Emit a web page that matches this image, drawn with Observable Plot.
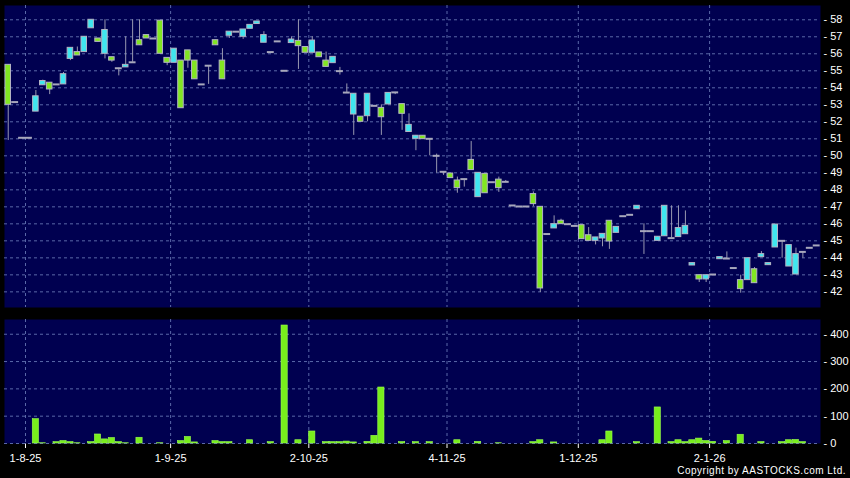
<!DOCTYPE html>
<html><head><meta charset="utf-8">
<script src="https://cdn.jsdelivr.net/npm/d3@7"></script>
<script src="https://cdn.jsdelivr.net/npm/@observablehq/plot@0.6"></script>
<style>
html,body{margin:0;padding:0;background:#000;}
#wrap{position:relative;width:850px;height:478px;background:#000;overflow:hidden;font-family:"Liberation Sans",Arial,sans-serif;}
#price{position:absolute;left:0;top:0;}
#vol{position:absolute;left:0;top:310px;}
#copy{position:absolute;right:4px;top:466px;font-size:10px;line-height:10px;color:#fff;letter-spacing:0.5px;white-space:nowrap;}
</style></head><body>
<div id="wrap"><div id="price"></div><div id="vol"></div><div id="copy">Copyright by AASTOCKS.com Ltd.</div></div>
<script>
// Daily OHLC (trading-day index 0..117)
const open = [55.35,53.16,51.06,51.06,52.6,54.15,54.3,54.2,54.2,55.7,
56.1,56.1,57.5,56.9,56.0,55.8,55.15,55.2,55.5,56.8,
57.1,56.9,57.95,55.76,55.47,55.6,56.2,55.6,54.2,55.3,
56.8,55.6,57.06,57.3,57.0,57.47,57.75,56.65,56.1,56.73,
55.0,56.63,56.76,56.4,56.06,56.08,55.6,55.45,54.98,53.72,
52.43,52.3,52.33,52.94,52.82,53.02,53.73,53.04,51.4,51.0,
51.18,51.0,50.0,49.06,48.96,48.55,48.63,49.76,47.57,48.94,
48.45,48.6,48.47,47.08,47.02,47.02,47.75,47.0,45.4,45.73,
46.18,45.98,45.88,45.92,45.33,45.0,45.14,46.18,45.47,46.45,
46.53,46.86,45.57,45.57,45.0,45.27,45.16,45.22,45.39,43.55,
42.98,42.73,43.02,43.92,43.96,43.4,42.69,42.69,43.33,44.04,
43.57,44.61,45.0,43.49,43.02,44.35,44.59,44.73];
const close = [53.0,53.16,51.06,51.06,53.5,54.4,53.9,54.2,54.8,56.35,
55.9,57.0,58.0,56.7,57.4,55.6,55.15,55.35,55.5,56.5,
56.9,56.9,56.0,55.47,56.3,52.8,55.6,54.5,54.2,55.3,
56.5,54.5,57.3,57.3,57.43,57.7,57.9,57.1,56.1,56.73,
55.0,56.84,56.45,56.06,56.78,55.8,55.23,55.82,54.98,53.72,
53.65,52.0,53.65,52.94,52.27,53.7,53.73,52.47,51.82,51.18,
50.98,51.0,50.0,49.06,48.69,48.1,48.63,49.16,49.0,47.8,
48.45,48.1,48.47,47.08,47.02,47.02,47.16,42.2,45.4,45.98,
45.98,45.98,45.88,45.1,45.0,45.2,45.41,44.96,45.82,46.45,
46.53,47.06,45.57,45.57,45.24,47.06,45.16,45.75,45.88,43.69,
42.73,42.98,43.02,44.04,43.96,43.4,42.16,43.98,42.51,44.22,
43.69,45.96,45.0,44.75,44.22,44.35,44.59,44.73];
const high = [55.35,53.16,51.06,51.06,53.84,54.45,54.3,54.2,54.9,56.35,
56.4,57.0,58.0,56.9,58.0,55.8,55.15,57.0,58.0,58.0,
57.1,56.9,57.95,55.76,56.3,55.6,56.2,55.6,54.2,55.3,
56.8,56.3,57.3,57.3,57.43,57.7,57.9,57.3,56.1,56.73,
55.0,57.0,58.0,56.4,57.0,56.08,56.1,55.82,55.2,54.23,
53.65,52.3,53.65,52.94,53.0,53.7,53.73,53.04,52.47,51.2,
51.18,51.0,50.1,49.06,48.96,48.75,48.63,50.84,49.0,48.94,
48.45,48.75,48.55,47.08,47.02,47.02,47.88,47.0,45.4,46.47,
46.27,45.98,45.88,45.92,45.78,45.2,45.41,46.18,45.82,46.45,
46.53,47.06,46.0,45.57,45.24,47.06,47.06,47.06,46.76,43.69,
42.98,42.98,43.02,44.04,44.35,43.4,42.98,43.98,43.43,44.37,
43.69,45.96,45.0,44.75,44.57,44.35,44.59,44.73];
const low = [50.9,53.16,51.06,51.06,52.6,54.15,53.6,54.2,54.2,55.6,
55.9,56.1,57.5,56.7,55.7,55.5,54.7,55.2,55.5,56.5,
56.9,56.9,56.0,55.3,55.47,52.8,55.15,54.5,54.2,54.2,
56.5,54.5,56.9,57.3,56.85,57.47,57.75,56.65,56.1,56.73,
55.0,56.63,55.08,56.06,56.06,55.8,55.23,55.45,54.75,53.72,
51.2,52.0,52.0,52.94,51.2,53.02,53.6,51.5,51.4,50.3,
50.98,50.0,48.98,48.85,48.69,47.8,48.16,49.16,47.57,47.8,
48.45,47.85,48.47,47.08,47.02,47.02,47.0,41.96,45.4,45.73,
45.98,45.98,45.88,45.1,45.0,44.76,44.65,44.5,45.47,46.45,
46.53,46.86,44.2,45.57,45.0,45.27,45.16,45.22,45.39,43.55,
42.55,42.55,43.02,43.92,43.96,43.4,41.92,42.69,42.51,44.04,
43.57,44.61,43.98,43.49,43.02,43.98,44.59,44.73];
const volume = [0,0,0,0,89,1,0,5,9,5,
1,0,5,33,15,20,5,1,0,21,
0,0,1,0,0,9,24,4,0,0,
9,5,5,0,0,12,0,0,5,0,
432,0,12,0,44,0,5,5,5,7,
4,0,6,28,205,0,0,5,0,5,
0,5,0,0,0,12,0,0,6,0,
0,1,0,0,0,0,5,12,0,4,
0,0,0,0,0,0,12,44,0,0,
0,5,0,0,132,0,5,12,5,12,
18,9,6,0,9,0,32,0,0,5,
0,0,5,12,13,5,0,0];

// Axis ticks
const tickIdx = [3, 24, 44, 64, 83, 102];           // first trading day of each labelled month
const tickLabels = ["1-8-25","1-9-25","2-10-25","4-11-25","1-12-25","2-1-26"];
const priceTicks = [42,43,44,45,46,47,48,49,50,51,52,53,54,55,56,57,58];
const volTicks = [0,100,200,300,400];

const days = open.map((o, i) => ({i, o, h: high[i], l: low[i], c: close[i], v: volume[i]}));
const tickPos = tickIdx.map(i => i - 0.5);
const xDomain = [-0.54, 117.55];

const PANEL = "#000050", GRID = "#5a68a8", WICK = "#9898b0", DOJI = "#a8a8bc";
const UP = "#3fe6ef", DOWN = "#82e622", EDGE = "#b4b4c4", VOLC = "#78ee1c";
const style = {background: "transparent", color: "#fff", fontSize: "11px", fontFamily: "'Liberation Sans', Arial, sans-serif"};

const pricePlot = Plot.plot({
  width: 850, height: 310, marginTop: 5, marginBottom: 3, marginLeft: 4, marginRight: 30,
  style,
  color: {type: "identity"},
  x: {domain: xDomain, axis: null},
  y: {domain: [41.08, 58.84], axis: "right", ticks: priceTicks, tickSize: 0, tickPadding: 3, tickFormat: d => "- " + d, label: null},
  marks: [
    Plot.frame({fill: PANEL, stroke: null}),
    Plot.ruleY(priceTicks, {stroke: GRID, strokeDasharray: "3,3"}),
    Plot.ruleX(tickPos, {stroke: GRID, strokeDasharray: "3,3"}),
    Plot.ruleX(days.filter(d => d.h > d.l), {x: "i", y1: "l", y2: "h", stroke: WICK, strokeWidth: 1}),
    Plot.rect(days.filter(d => d.o !== d.c), {
      x1: d => d.i - 0.4, x2: d => d.i + 0.4, y1: "o", y2: "c",
      fill: d => d.c > d.o ? UP : DOWN, stroke: EDGE, strokeWidth: 1
    }),
    Plot.ruleY(days.filter(d => d.o === d.c), {y: "c", x1: d => d.i - 0.5, x2: d => d.i + 0.5, stroke: DOJI, strokeWidth: 2})
  ]
});
document.getElementById("price").appendChild(pricePlot);

const volPlot = Plot.plot({
  width: 850, height: 168, marginTop: 9, marginBottom: 35, marginLeft: 4, marginRight: 30,
  style,
  x: {domain: xDomain, ticks: tickPos, tickFormat: d => tickLabels[tickPos.indexOf(d)], tickSize: 5, tickPadding: 6, label: null},
  y: {domain: [0, 454], axis: "right", ticks: volTicks, tickSize: 0, tickPadding: 3, tickFormat: d => "- " + d, label: null},
  marks: [
    Plot.frame({fill: PANEL, stroke: null}),
    Plot.ruleY(volTicks, {stroke: GRID, strokeDasharray: "3,3"}),
    Plot.ruleX(tickPos, {stroke: GRID, strokeDasharray: "3,3"}),
    Plot.rect(days.filter(d => d.v > 0), {x1: d => d.i - 0.45, x2: d => d.i + 0.45, y1: 0, y2: "v", fill: VOLC, stroke: "#9cff50", strokeWidth: 0.6})
  ]
});
document.getElementById("vol").appendChild(volPlot);
</script>
</body></html>
